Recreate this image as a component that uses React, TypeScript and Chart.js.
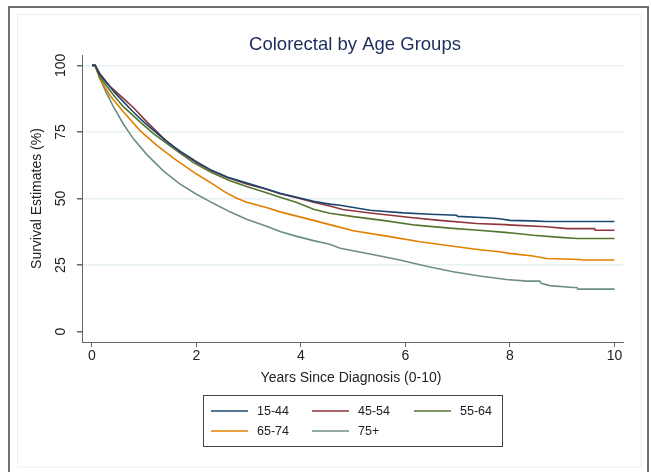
import { useEffect, useRef } from 'react';
import { Chart, registerables } from 'chart.js';

Chart.register(...registerables);

const FONT = '"Liberation Sans", Arial, Helvetica, sans-serif';

const ageGroups = ['15-44', '45-54', '55-64', '65-74', '75+'];
const groupColors = ['#1a476f', '#90353b', '#55752f', '#e37e00', '#6e8e84'];
const xTickValues = [0, 2, 4, 6, 8, 10];
const yTickValues = [0, 25, 50, 75, 100];

// Kaplan-Meier survival estimates (%) by years since diagnosis
const years1544 = [0, 0.06, 0.15, 0.3, 0.45, 0.6, 0.8, 1.0, 1.2, 1.43, 1.7, 2.0, 2.3, 2.6, 3.0, 3.34, 3.6, 3.92, 4.24, 4.55, 4.75, 5.32, 5.96, 6.47, 6.98, 7.0, 7.55, 7.8, 8.0, 8.4, 8.7, 10];
const surv1544 = [100, 100, 96.5, 93, 89.5, 86.4, 82.3, 78.6, 75.2, 71.4, 67.6, 63.8, 60.5, 58.0, 55.6, 53.6, 52.0, 50.5, 49.0, 47.9, 47.5, 45.6, 44.6, 44.1, 43.7, 43.3, 42.8, 42.4, 41.8, 41.6, 41.4, 41.4];

const years4554 = [0, 0.06, 0.15, 0.35, 0.6, 0.8, 1.05, 1.37, 1.68, 2.0, 2.3, 2.6, 2.96, 3.34, 3.6, 3.92, 4.24, 4.55, 4.8, 5.32, 6.1, 6.6, 7.36, 7.9, 8.05, 8.7, 9.1, 9.62, 9.63, 10];
const surv4554 = [100, 100, 97, 92, 87.6, 84, 78.8, 72.6, 67.6, 63.5, 60.3, 57.8, 55.5, 53.5, 51.8, 50.3, 48.6, 47.2, 45.9, 44.6, 42.9, 41.9, 40.6, 40.2, 40.0, 39.4, 38.7, 38.7, 38.1, 38.1];

const years5564 = [0, 0.06, 0.15, 0.41, 0.6, 0.92, 1.17, 1.56, 1.94, 2.3, 2.64, 2.96, 3.34, 3.6, 3.92, 4.24, 4.55, 5.0, 5.6, 6.2, 6.9, 7.4, 7.9, 8.13, 8.45, 8.96, 9.28, 10];
const surv5564 = [100, 100, 95.7, 88.9, 84.5, 78.8, 74.5, 68.8, 63.5, 59.7, 56.7, 54.5, 52.2, 50.5, 48.5, 46.0, 44.5, 43.2, 41.7, 40.0, 38.8, 38.1, 37.3, 36.9, 36.2, 35.4, 35.0, 35.0];

const years6574 = [0, 0.06, 0.15, 0.35, 0.6, 0.92, 1.24, 1.56, 2.0, 2.3, 2.55, 2.75, 2.96, 3.34, 3.6, 3.92, 4.24, 4.55, 5.0, 5.64, 6.28, 6.91, 7.42, 7.8, 7.99, 8.44, 8.7, 9.34, 9.4, 10];
const surv6574 = [100, 100, 95, 88.5, 82.6, 75.5, 70.0, 65.2, 59.2, 55.6, 52.4, 50.3, 48.6, 46.6, 45.0, 43.4, 41.8, 40.2, 37.9, 35.9, 33.8, 32.1, 30.8, 30.0, 29.4, 28.4, 27.5, 27.1, 26.9, 26.9];

const years75 = [0, 0.06, 0.15, 0.28, 0.41, 0.6, 0.79, 1.05, 1.37, 1.68, 2.0, 2.32, 2.64, 2.96, 3.34, 3.6, 3.92, 4.24, 4.55, 4.75, 5.32, 5.89, 6.4, 6.91, 7.42, 7.93, 8.32, 8.57, 8.6, 8.76, 9.21, 9.28, 9.3, 10];
const surv75 = [100, 100, 95.1, 89.5, 84.5, 78, 72.5, 66.5, 60.3, 55.5, 51.6, 48.2, 45.0, 42.2, 39.6, 37.6, 35.8, 34.2, 32.8, 31.3, 29.2, 26.9, 24.6, 22.5, 20.9, 19.6, 19.0, 19.0, 18.2, 17.3, 16.6, 16.6, 16.0, 16.0];

const seriesYears = [years1544, years4554, years5564, years6574, years75];
const seriesSurv = [surv1544, surv4554, surv5564, surv6574, surv75];

const toPoints = (t: number[], s: number[]) => t.map((x, i) => ({ x, y: s[i] }));

const decorations = {
  id: 'decorations',
  afterDraw(chart: any) {
    const { ctx } = chart;
    const x = chart.scales.x;
    const y = chart.scales.y;
    ctx.save();

    // graph region outlines
    ctx.strokeStyle = '#e9f0f4';
    ctx.lineWidth = 1;
    ctx.strokeRect(17.5, 14.5, 623.5, 452.5);
    ctx.strokeStyle = '#707070';
    ctx.lineWidth = 2;
    ctx.strokeRect(9, 7, 639, 480);

    // title
    ctx.fillStyle = '#1c2c5c';
    ctx.font = `18.5px ${FONT}`;
    ctx.textAlign = 'center';
    ctx.textBaseline = 'middle';
    ctx.fillText('Colorectal by Age Groups', 355, 45);

    // x axis labels
    ctx.fillStyle = '#222';
    ctx.font = `14px ${FONT}`;
    xTickValues.forEach((v) => ctx.fillText(String(v), x.getPixelForValue(v), 356));
    ctx.fillText('Years Since Diagnosis (0-10)', 351, 378);

    // y axis labels (vertical)
    yTickValues.forEach((v) => {
      ctx.save();
      ctx.translate(61, y.getPixelForValue(v));
      ctx.rotate(-Math.PI / 2);
      ctx.fillText(String(v), 0, 0);
      ctx.restore();
    });
    ctx.save();
    ctx.translate(37, (y.getPixelForValue(0) + y.getPixelForValue(100)) / 2);
    ctx.rotate(-Math.PI / 2);
    ctx.fillText('Survival Estimates (%)', 0, 0);
    ctx.restore();

    // legend box
    ctx.strokeStyle = '#444';
    ctx.lineWidth = 1;
    ctx.strokeRect(203.5, 395.5, 299, 51);
    const colX = [211, 312, 414];
    const rowY = [411, 431];
    ctx.font = `12.5px ${FONT}`;
    ctx.textAlign = 'left';
    chart.data.datasets.forEach((ds: any, i: number) => {
      const col = i % 3;
      const row = Math.floor(i / 3);
      const lx = colX[col];
      const ly = rowY[row];
      ctx.strokeStyle = ds.borderColor;
      ctx.lineWidth = 1.6;
      ctx.beginPath();
      ctx.moveTo(lx, ly);
      ctx.lineTo(lx + 37, ly);
      ctx.stroke();
      ctx.fillStyle = '#222';
      ctx.fillText(ds.label, lx + 46, ly + 0.5);
    });

    ctx.restore();
  },
};

export default function App() {
  const canvasRef = useRef<HTMLCanvasElement | null>(null);

  useEffect(() => {
    const canvas = canvasRef.current;
    if (!canvas) return;
    const chart = new Chart(canvas, {
      type: 'line',
      data: {
        datasets: ageGroups.map((label, i) => ({
          label,
          data: toPoints(seriesYears[i], seriesSurv[i]),
          borderColor: groupColors[i],
          backgroundColor: groupColors[i],
          borderWidth: 1.6,
          pointRadius: 0,
          tension: 0,
          fill: false,
        })),
      },
      options: {
        responsive: false,
        animation: false,
        events: [],
        layout: { padding: { left: 0, top: 55, right: 28, bottom: 0 } },
        plugins: {
          legend: { display: false },
          title: { display: false },
          tooltip: { enabled: false },
        },
        scales: {
          x: {
            type: 'linear',
            min: -0.191,
            max: 10.163,
            afterBuildTicks: (s: any) => {
              s.ticks = xTickValues.map((value) => ({ value }));
            },
            afterFit: (s: any) => {
              s.height = 130;
            },
            ticks: { display: false },
            grid: {
              drawOnChartArea: false,
              drawTicks: true,
              tickLength: 5,
              tickColor: '#666',
              lineWidth: 1,
            },
            border: { display: true, color: '#666', width: 1 },
          },
          y: {
            type: 'linear',
            min: -3.87,
            max: 103.9,
            afterBuildTicks: (s: any) => {
              s.ticks = yTickValues.map((value) => ({ value }));
            },
            afterFit: (s: any) => {
              s.width = 82;
            },
            ticks: { display: false },
            grid: {
              drawTicks: true,
              tickLength: 5,
              color: (c: any) => (c.tick && c.tick.value === 0 ? 'rgba(0,0,0,0)' : '#e6eff3'),
              tickColor: '#666',
              lineWidth: 1.5,
            },
            border: { display: true, color: '#666', width: 1 },
          },
        },
      },
      plugins: [decorations],
    });
    return () => chart.destroy();
  }, []);

  return (
    <div style={{ position: 'absolute', left: 0, top: 0, width: 651, height: 472, background: '#fff' }}>
      <canvas ref={canvasRef} width={651} height={472} />
    </div>
  );
}
